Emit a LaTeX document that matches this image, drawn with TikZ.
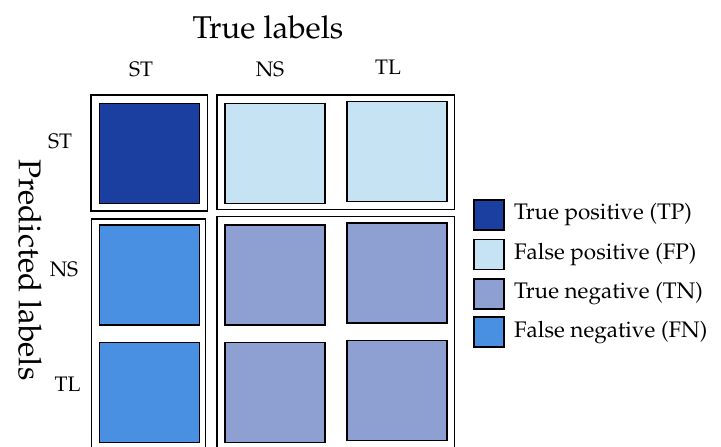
\documentclass[tikz,border=0pt]{standalone}
\usepackage[T1]{fontenc}
\usepackage{mathpazo}
\definecolor{tpc}{RGB}{27,63,160}
\definecolor{fpc}{RGB}{197,227,243}
\definecolor{tnc}{RGB}{142,160,210}
\definecolor{fnc}{RGB}{74,144,226}
\tikzset{
  cell/.style={draw=black, line width=1.6pt, minimum width=100pt, minimum height=100pt, inner sep=0pt},
  group/.style={draw=black, line width=1.4pt},
  legbox/.style={draw=black, line width=1.6pt, minimum width=30pt, minimum height=30pt, inner sep=0pt},
  legtext/.style={anchor=west, inner sep=0pt, font=\fontsize{22.5}{27}\selectfont},
  axistitle/.style={inner sep=0pt, font=\fontsize{31.5}{37}\selectfont},
  catlabel/.style={inner sep=0pt, font=\fontsize{21}{25}\selectfont}
}
\begin{document}
\begin{tikzpicture}[x=1pt,y=-1pt]
\useasboundingbox (0,0) rectangle (721,447);
\clip (0,0) rectangle (721,447);
% group frames
\draw[group] (91,95) rectangle (207.7,211);
\draw[group] (217,95) rectangle (454.3,209.3);
\draw[group] (91.7,219) rectangle (205.7,460);
\draw[group] (217,216.7) rectangle (454.3,460);
% cells
\node[cell, fill=tpc] (c11) at (149.3,153.3) {};
\node[cell, fill=fpc] (c12) at (275,153.3) {};
\node[cell, fill=fpc] (c13) at (396.7,151.3) {};
\node[cell, fill=fnc] (c21) at (149.3,275) {};
\node[cell, fill=tnc] (c22) at (275,275) {};
\node[cell, fill=tnc] (c23) at (396.7,273) {};
\node[cell, fill=fnc] (c31) at (149.3,392.5) {};
\node[cell, fill=tnc] (c32) at (275,392.5) {};
\node[cell, fill=tnc] (c33) at (396.7,390.3) {};
% titles
\node[axistitle] (tl) at (268,27) {True labels};
\node[axistitle, rotate=-90] (pl) at (30,270) {Predicted labels};
% column labels
\node[catlabel] (colST) at (141,69) {ST};
\node[catlabel] (colNS) at (270,69) {NS};
\node[catlabel] (colTL) at (388,67) {TL};
% row labels
\node[catlabel] (rowST) at (60,141) {ST};
\node[catlabel] (rowNS) at (64,269) {NS};
\node[catlabel] (rowTL) at (67.5,384) {TL};
% legend
\node[legbox, fill=tpc] (l1) at (488.8,214.7) {};
\node[legbox, fill=fpc] (l2) at (488.8,254.3) {};
\node[legbox, fill=tnc] (l3) at (488.8,293.8) {};
\node[legbox, fill=fnc] (l4) at (488.8,332) {};
\node[legtext] (t1) at (514,215) {True positive (TP)};
\node[legtext] (t2) at (514,254.5) {False positive (FP)};
\node[legtext] (t3) at (514,294) {True negative (TN)};
\node[legtext] (t4) at (514,332.5) {False negative (FN)};
\end{tikzpicture}
\end{document}
